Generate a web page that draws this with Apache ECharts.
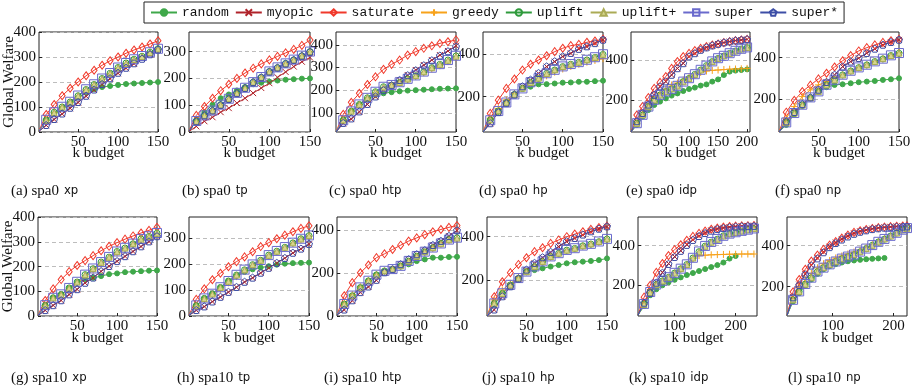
<!DOCTYPE html>
<html>
<head>
<meta charset="utf-8">
<script src="https://cdn.jsdelivr.net/npm/echarts@6/dist/echarts.min.js"></script>
<style>
  html, body { margin: 0; padding: 0; background: #fff; }
  #chart { width: 923px; height: 389px; }
</style>
</head>
<body>
<div id="chart"></div>
<script>
// budgets on the x axis
const k150 = [1, 10, 20, 30, 40, 50, 60, 70, 80, 90, 100, 110, 120, 130, 140, 150];
const k200 = [0, 10, 20, 30, 40, 50, 60, 70, 80, 90, 100, 110, 120, 130, 140, 150, 160, 170, 180, 190, 200];
const k230 = [40, 50, 60, 70, 80, 90, 100, 110, 120, 130, 140, 150, 160, 170, 180, 190, 200, 210, 220, 230];
const k222 = [25, 35, 45, 55, 65, 75, 85, 95, 105, 115, 125, 135, 145, 155, 165, 175, 185, 195, 205, 215, 222];

const seriesNames = ["random", "myopic", "saturate", "greedy", "uplift", "uplift+", "super", "super*"];

// each panel: one row per series, in legend order
const spa0XP = [
  [5, 45, 72, 95, 115, 138, 158, 172, 180, 184, 188, 192, 194, 196, 198, 200],
  [3, 27, 50, 72, 95, 118, 143, 168, 190, 213, 235, 255, 273, 292, 310, 328],
  [5, 70, 110, 145, 175, 200, 225, 247, 267, 285, 300, 315, 328, 340, 352, 365],
  [4, 47, 77, 99, 119, 143, 168, 188, 211, 233, 255, 273, 288, 301, 317, 331],
  [4, 48, 79, 100, 120, 145, 170, 190, 214, 235, 258, 276, 291, 303, 319, 333],
  [4, 48, 78, 100, 120, 145, 170, 190, 213, 235, 257, 275, 290, 302, 318, 332],
  [4, 49, 79, 101, 121, 146, 171, 191, 214, 236, 258, 276, 291, 304, 319, 333],
  [3, 28, 52, 74, 97, 120, 145, 170, 192, 215, 237, 257, 275, 293, 311, 330],
];
const spa0TP = [
  [4, 45, 74, 102, 126, 140, 155, 168, 178, 184, 188, 192, 195, 197, 199, 200],
  [2, 21, 40, 55, 74, 89, 108, 126, 145, 164, 182, 204, 224, 244, 262, 278],
  [4, 62, 95, 126, 154, 178, 200, 220, 238, 254, 269, 282, 295, 308, 323, 343],
  [3, 40, 61, 79, 100, 122, 144, 163, 185, 203, 224, 239, 254, 268, 283, 299],
  [3, 40, 62, 80, 102, 124, 145, 164, 186, 204, 226, 240, 256, 269, 284, 300],
  [3, 40, 62, 80, 101, 124, 145, 164, 186, 204, 225, 240, 255, 269, 284, 300],
  [3, 41, 62, 80, 102, 124, 146, 165, 186, 205, 226, 241, 256, 270, 285, 300],
  [3, 40, 62, 80, 101, 123, 145, 164, 186, 204, 225, 240, 255, 269, 284, 299],
];
const spa0HTP = [
  [15, 65, 105, 135, 160, 178, 186, 191, 195, 198, 200, 202, 204, 206, 207, 208],
  [15, 53, 72, 104, 137, 171, 200, 222, 245, 267, 289, 311, 333, 355, 373, 396],
  [15, 93, 146, 186, 225, 259, 292, 314, 333, 355, 370, 385, 396, 407, 414, 422],
  [15, 70, 108, 137, 165, 190, 210, 220, 232, 246, 260, 277, 294, 308, 326, 343],
  [15, 68, 107, 137, 166, 193, 215, 222, 234, 249, 264, 281, 299, 314, 333, 351],
  [15, 68, 107, 137, 166, 192, 214, 222, 234, 249, 264, 281, 299, 314, 332, 350],
  [15, 67, 106, 137, 166, 193, 215, 223, 235, 250, 265, 282, 299, 315, 333, 352],
  [15, 55, 75, 106, 139, 172, 200, 222, 245, 266, 288, 310, 332, 353, 372, 393],
];
const spa0HP = [
  [35, 91, 130, 169, 208, 236, 247, 258, 259, 262, 266, 267, 270, 270, 273, 275],
  [35, 75, 127, 169, 208, 247, 278, 309, 341, 364, 388, 403, 423, 434, 450, 466],
  [35, 122, 184, 239, 283, 325, 352, 372, 392, 411, 427, 439, 445, 455, 461, 469],
  [35, 100, 145, 185, 215, 240, 262, 280, 298, 315, 330, 342, 352, 362, 370, 378],
  [35, 91, 133, 173, 211, 239, 267, 286, 309, 325, 341, 352, 361, 372, 384, 398],
  [35, 92, 134, 174, 211, 240, 267, 287, 309, 326, 341, 353, 362, 373, 385, 399],
  [35, 90, 133, 173, 211, 239, 268, 287, 310, 326, 342, 353, 362, 373, 385, 399],
  [35, 76, 128, 170, 210, 249, 280, 311, 342, 366, 389, 405, 424, 436, 451, 467],
];
const spa0IDP = [
  [40, 75, 117, 150, 175, 192, 208, 222, 233, 245, 255, 262, 272, 278, 292, 303, 325, 342, 347, 350, 353],
  [40, 92, 133, 175, 225, 267, 292, 325, 358, 383, 417, 433, 450, 462, 472, 480, 487, 492, 497, 500, 503],
  [40, 125, 167, 212, 258, 288, 317, 358, 392, 417, 433, 447, 458, 467, 475, 480, 487, 492, 497, 500, 503],
  [40, 85, 128, 170, 205, 232, 255, 275, 285, 300, 315, 325, 338, 345, 348, 350, 352, 354, 355, 356, 358],
  [40, 83, 125, 167, 200, 225, 242, 255, 270, 292, 308, 328, 350, 372, 392, 408, 420, 433, 445, 455, 462],
  [40, 83, 125, 166, 200, 225, 242, 256, 270, 291, 308, 328, 350, 371, 392, 408, 421, 433, 445, 455, 462],
  [40, 84, 126, 167, 201, 226, 243, 256, 271, 292, 309, 329, 351, 372, 393, 409, 421, 434, 446, 456, 463],
  [40, 94, 135, 177, 226, 268, 293, 326, 359, 384, 418, 434, 451, 463, 473, 481, 488, 493, 498, 501, 504],
];
const spa0NP = [
  [43, 77, 128, 168, 205, 237, 258, 269, 272, 277, 282, 285, 288, 293, 296, 301],
  [43, 93, 138, 176, 208, 245, 282, 317, 357, 381, 397, 421, 442, 461, 474, 485],
  [43, 138, 195, 237, 268, 298, 325, 355, 385, 410, 432, 448, 461, 473, 481, 488],
  [43, 109, 165, 213, 245, 269, 285, 301, 317, 336, 352, 365, 381, 394, 410, 424],
  [43, 88, 133, 173, 208, 237, 269, 293, 317, 336, 352, 365, 381, 394, 410, 421],
  [43, 88, 134, 173, 208, 238, 269, 293, 317, 336, 352, 366, 381, 395, 410, 422],
  [43, 89, 134, 174, 209, 238, 270, 294, 318, 337, 353, 366, 382, 395, 411, 422],
  [43, 94, 139, 177, 209, 246, 283, 318, 357, 381, 398, 422, 443, 462, 475, 486],
];
const spa10XP = [
  [3, 43, 74, 88, 112, 135, 150, 155, 162, 170, 173, 178, 180, 182, 184, 185],
  [2, 23, 43, 63, 87, 108, 134, 155, 181, 202, 222, 242, 262, 282, 302, 323],
  [4, 63, 110, 148, 180, 205, 225, 245, 265, 283, 298, 312, 325, 337, 348, 360],
  [3, 42, 72, 85, 108, 132, 160, 186, 210, 232, 255, 270, 288, 308, 320, 333],
  [3, 43, 74, 87, 114, 138, 168, 192, 219, 239, 262, 276, 293, 313, 323, 336],
  [3, 43, 73, 87, 113, 138, 167, 192, 218, 239, 261, 276, 293, 312, 323, 336],
  [3, 44, 74, 88, 114, 139, 168, 193, 219, 240, 262, 277, 294, 313, 324, 337],
  [2, 24, 44, 64, 88, 109, 135, 156, 182, 203, 223, 243, 263, 283, 303, 324],
];
const spa10TP = [
  [3, 40, 68, 85, 110, 135, 155, 170, 180, 187, 192, 198, 202, 204, 205, 206],
  [2, 22, 36, 55, 73, 92, 111, 131, 147, 166, 185, 204, 223, 243, 259, 277],
  [4, 64, 105, 140, 165, 190, 210, 228, 248, 268, 283, 298, 312, 325, 338, 348],
  [3, 38, 65, 80, 103, 128, 152, 173, 195, 213, 232, 248, 263, 280, 296, 308],
  [3, 40, 68, 85, 110, 135, 158, 178, 198, 215, 235, 250, 265, 282, 298, 310],
  [3, 40, 67, 85, 110, 134, 158, 178, 198, 215, 234, 250, 265, 282, 297, 310],
  [3, 41, 68, 86, 111, 135, 159, 179, 199, 216, 235, 251, 266, 283, 298, 311],
  [2, 23, 37, 56, 74, 93, 112, 132, 148, 167, 186, 205, 224, 244, 260, 278],
];
const spa10HTP = [
  [5, 55, 94, 132, 163, 191, 209, 217, 232, 240, 255, 263, 271, 271, 274, 275],
  [5, 28, 71, 109, 135, 166, 202, 217, 240, 263, 286, 305, 329, 348, 371, 397],
  [5, 94, 155, 201, 237, 271, 289, 309, 329, 348, 363, 378, 391, 402, 412, 420],
  [5, 60, 100, 136, 165, 192, 209, 217, 232, 253, 275, 295, 314, 333, 350, 358],
  [5, 55, 94, 132, 163, 191, 209, 217, 232, 255, 278, 298, 317, 337, 355, 363],
  [5, 56, 95, 132, 164, 191, 210, 218, 233, 255, 278, 298, 317, 336, 354, 362],
  [5, 56, 95, 133, 164, 192, 210, 218, 233, 256, 279, 299, 318, 337, 355, 364],
  [5, 30, 73, 111, 137, 168, 203, 218, 241, 264, 287, 306, 330, 349, 372, 398],
];
const spa10HP = [
  [34, 85, 138, 174, 208, 238, 246, 254, 262, 269, 277, 282, 285, 288, 292, 300],
  [34, 62, 123, 169, 205, 246, 277, 303, 328, 354, 377, 392, 408, 423, 435, 446],
  [34, 123, 192, 234, 272, 303, 331, 349, 369, 385, 400, 412, 423, 434, 442, 449],
  [34, 108, 154, 185, 212, 240, 263, 285, 306, 321, 336, 344, 356, 364, 374, 385],
  [34, 92, 138, 177, 208, 238, 262, 285, 308, 323, 338, 346, 358, 366, 377, 389],
  [34, 93, 138, 177, 209, 238, 263, 285, 308, 324, 338, 347, 358, 367, 378, 390],
  [34, 92, 139, 178, 209, 239, 263, 286, 309, 324, 339, 347, 359, 367, 378, 390],
  [34, 64, 125, 171, 207, 248, 279, 305, 330, 356, 379, 394, 410, 425, 437, 448],
];
const spa10IDP = [
  [50, 95, 150, 180, 200, 215, 228, 240, 252, 262, 272, 282, 292, 302, 315, 335, 348],
  [50, 115, 165, 215, 265, 310, 345, 375, 405, 430, 450, 465, 477, 485, 490, 494, 497, 499, 500, 501],
  [50, 140, 200, 265, 310, 350, 380, 405, 427, 447, 462, 474, 483, 489, 494, 497, 499, 500, 501, 502],
  [50, 105, 165, 203, 222, 240, 262, 283, 305, 335, 350, 352, 354, 355, 356, 357, 357, 358, 358, 358],
  [50, 105, 165, 203, 222, 240, 262, 283, 305, 338, 370, 398, 418, 433, 450, 460, 467, 474, 480, 486],
  [50, 104, 164, 203, 222, 241, 262, 284, 305, 338, 369, 397, 418, 433, 449, 460, 467, 474, 480, 486],
  [50, 106, 166, 204, 223, 241, 263, 284, 306, 339, 371, 399, 419, 434, 450, 461, 468, 475, 481, 487],
  [50, 112, 162, 213, 263, 308, 343, 374, 404, 429, 449, 464, 476, 484, 489, 493, 496, 498, 499, 500],
];
const spa10NP = [
  [60, 128, 168, 205, 235, 262, 285, 300, 310, 318, 324, 328, 331, 334, 336, 338, 340],
  [60, 150, 210, 262, 305, 340, 370, 395, 415, 432, 447, 460, 470, 477, 483, 487, 490, 492, 494, 495, 496],
  [62, 175, 235, 285, 325, 354, 382, 403, 420, 437, 452, 465, 473, 479, 484, 488, 491, 493, 495, 496, 497],
  [60, 148, 196, 235, 265, 292, 312, 328, 340, 350, 360, 369, 379, 391, 405, 420, 434, 448, 463, 478, 486],
  [60, 135, 176, 212, 243, 273, 292, 308, 322, 336, 346, 356, 370, 385, 402, 418, 432, 447, 462, 478, 485],
  [60, 136, 177, 212, 244, 273, 293, 308, 323, 336, 347, 357, 370, 386, 402, 418, 433, 447, 462, 477, 485],
  [60, 136, 177, 213, 244, 274, 293, 309, 323, 337, 347, 357, 371, 386, 403, 419, 433, 448, 463, 478, 486],
  [60, 148, 208, 260, 303, 338, 368, 393, 413, 430, 445, 458, 468, 475, 481, 485, 488, 490, 492, 493, 494],
];

// tick labels
const yTicks = [
  [0, 100, 200, 300, 400], [0, 100, 200, 300], [100, 200, 300, 400], [200, 400], [200, 400], [200, 400],
  [0, 100, 200, 300, 400], [0, 100, 200, 300], [0, 200, 400], [200, 400], [200, 400], [200, 400],
];
const xTicks = [
  [50, 100, 150], [50, 100, 150], [50, 100, 150], [50, 100, 150], [50, 100, 150, 200], [50, 100, 150],
  [50, 100, 150], [50, 100, 150], [50, 100, 150], [50, 100, 150], [100, 200], [100, 200],
];
const captions = [
  ["(a) spa0", "xp"], ["(b) spa0", "tp"], ["(c) spa0", "htp"], ["(d) spa0", "hp"], ["(e) spa0", "idp"], ["(f) spa0", "np"],
  ["(g) spa10", "xp"], ["(h) spa10", "tp"], ["(i) spa10", "htp"], ["(j) spa10", "hp"], ["(k) spa10", "idp"], ["(l) spa10", "np"],
];

const panels = [spa0XP, spa0TP, spa0HTP, spa0HP, spa0IDP, spa0NP, spa10XP, spa10TP, spa10HTP, spa10HP, spa10IDP, spa10NP];
const budgets = [k150, k150, k150, k150, k200, k150, k150, k150, k150, k150, k230, k222];

// layout (pixels) and axis extents
const gridX = [[39, 158], [189, 310], [336, 456], [483, 603], [631, 750], [779, 899],
               [38, 157], [189, 309], [337, 457], [487, 607], [638, 757], [787, 907]];
const rowTop = [32, 217];
const rowHeight = [100, 99];
const nameGapX = [14, 15];
const xRange = [[1, 150], [1, 150], [1, 150], [1, 150], [0, 205], [1, 150],
                [1, 150], [1, 150], [1, 150], [1, 150], [40, 235], [25, 222]];
const yRange = [[0, 400], [0, 373], [15, 457], [35, 503], [40, 540], [43, 523],
                [0, 402], [0, 382], [0, 460], [34, 491], [45, 545], [57, 540]];
const capX = [6, 177, 324, 474, 621, 770, 6, 172, 319, 477, 624, 783];
const capTop = [177, 364];

const serif = "Liberation Serif";
const styles = [
  { color: "#3fa84a", symbol: "circle", size: 5, fill: "#3fa84a" },
  { color: "#b0232a", symbol: "path://M0,0L10,10M10,0L0,10", size: 6, fill: "none" },
  { color: "#f0392b", symbol: "diamond", size: [6, 8], fill: "rgba(255,255,255,0)" },
  { color: "#f7a21b", symbol: "path://M5,0L5,10M0,5L10,5", size: 7, fill: "none" },
  { color: "#2f9a3c", symbol: "circle", size: 6, fill: "rgba(255,255,255,0)" },
  { color: "#abab55", symbol: "triangle", size: 6, fill: "#d6d68c" },
  { color: "#6a6acc", symbol: "rect", size: 9, fill: "rgba(255,255,255,0)" },
  { color: "#3d4ea6", symbol: "path://M5,0L10,3.6L8.1,9.5L1.9,9.5L0,3.6Z", size: 7, fill: "rgba(255,255,255,0)" },
];

const grids = [], xAxes = [], yAxes = [], series = [], titles = [];

panels.forEach((rows, p) => {
  const row = p < 6 ? 0 : 1;
  grids.push({
    left: gridX[p][0], top: rowTop[row],
    width: gridX[p][1] - gridX[p][0], height: rowHeight[row],
    show: true, borderColor: "#222", borderWidth: 1,
  });
  xAxes.push({
    gridIndex: p, type: "value", min: xRange[p][0], max: xRange[p][1],
    axisLine: { show: false },
    axisTick: { show: true, inside: true, length: 3, customValues: xTicks[p], lineStyle: { color: "#222" } },
    axisLabel: { customValues: xTicks[p], fontFamily: serif, fontSize: 15, color: "#111", margin: 3 },
    splitLine: { show: false },
    name: "k budget", nameLocation: "middle", nameGap: nameGapX[row], nameMoveOverlap: false,
    nameTextStyle: { fontFamily: serif, fontSize: 15, color: "#111" },
  });
  yAxes.push({
    gridIndex: p, type: "value", min: yRange[p][0], max: yRange[p][1],
    axisLine: { show: false },
    axisTick: { show: true, inside: true, length: 3, customValues: yTicks[p], lineStyle: { color: "#222" } },
    axisLabel: { customValues: yTicks[p], fontFamily: serif, fontSize: 15, color: "#111", margin: 3 },
    splitLine: { show: true, lineStyle: { type: [4, 3], color: "#bdbdbd", width: 1 } },
    name: p % 6 === 0 ? "Global Welfare" : "", nameLocation: "middle", nameGap: 22, nameMoveOverlap: false,
    nameTextStyle: { fontFamily: serif, fontSize: 15, color: "#111" },
  });
  titles.push({
    text: "{s|" + captions[p][0] + "} {t|" + captions[p][1] + "}",
    left: capX[p], top: capTop[row],
    textStyle: {
      fontWeight: "normal",
      rich: {
        s: { fontFamily: serif, fontSize: 15, fontWeight: "normal", color: "#111" },
        t: { fontFamily: "DejaVu Sans Condensed, DejaVu Sans", fontSize: 13, fontWeight: "normal", color: "#111" },
      },
    },
  });
  rows.forEach((vals, s) => {
    const st = styles[s];
    const ks = budgets[p];
    series.push({
      name: seriesNames[s], type: "line", xAxisIndex: p, yAxisIndex: p,
      data: vals.map((v, j) => (j === 0 ? { value: [ks[j], v], symbol: "none" } : [ks[j], v])),
      symbol: st.symbol, symbolSize: st.size,
      itemStyle: { color: st.fill, borderColor: st.color, borderWidth: 1 },
      lineStyle: { color: st.color, width: 1 },
      emphasis: { disabled: true },
      animation: false,
    });
  });
});

const chart = echarts.init(document.getElementById("chart"));
chart.setOption({
  animation: false,
  backgroundColor: "#fff",
  title: titles,
  legend: {
    data: seriesNames, left: 144, top: 2,
    itemWidth: 26, itemHeight: 8, itemGap: 6,
    padding: [4, 6], borderColor: "#222", borderWidth: 1,
    textStyle: { fontFamily: "Liberation Mono", fontSize: 13, color: "#111" },
  },
  grid: grids,
  xAxis: xAxes,
  yAxis: yAxes,
  series: series,
});
</script>
</body>
</html>
